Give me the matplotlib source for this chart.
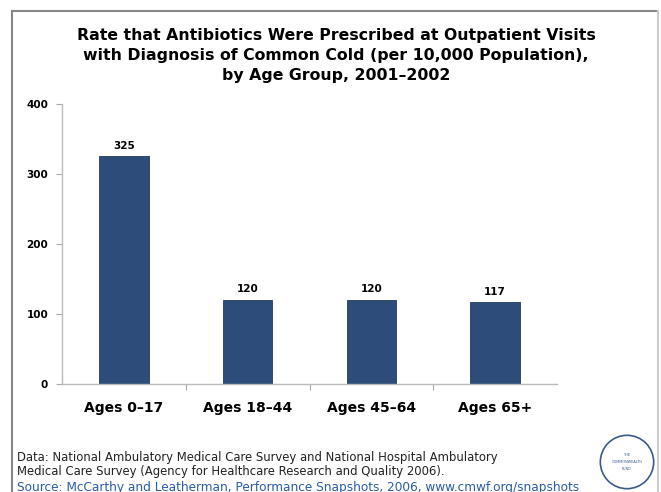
import matplotlib
matplotlib.use("Agg")
import matplotlib.pyplot as plt
from matplotlib.lines import Line2D
from matplotlib.patches import Circle

categories = ["Ages 0\u201317", "Ages 18\u201344", "Ages 45\u201364", "Ages 65+"]
values = [325, 120, 120, 117]
yticks = [0, 100, 200, 300, 400]

title = ("Rate that Antibiotics Were Prescribed at Outpatient Visits\n"
         "with Diagnosis of Common Cold (per 10,000 Population),\n"
         "by Age Group, 2001\u20132002")
note1 = "Data: National Ambulatory Medical Care Survey and National Hospital Ambulatory"
note2 = "Medical Care Survey (Agency for Healthcare Research and Quality 2006)."
source = "Source: McCarthy and Leatherman, Performance Snapshots, 2006, www.cmwf.org/snapshots"

plt.rcParams['font.family'] = ['DejaVu Sans']

fig = plt.figure(figsize=(6.61, 4.92), dpi=100)
ax = fig.add_axes([62/661, 1-384/492, 495/661, 280/492])

bar_color = "#2D4C7A"
x = list(range(len(categories)))
bars = ax.bar(x, values, width=0.4, color=bar_color, edgecolor="#22395e", linewidth=0.6)
ax.set_xlim(-0.5, len(categories)-0.5)
ax.set_ylim(0, 400)
ax.set_yticks(yticks)
ax.set_yticklabels([str(v) for v in yticks], fontsize=7.5, fontweight='bold')
ax.set_xticks([i+0.5 for i in range(len(categories)-1)], minor=False)
ax.set_xticklabels([])
ax.set_xticks(x, minor=True)
ax.set_xticklabels(categories, minor=True, fontsize=10, fontweight='bold')
ax.tick_params(axis='x', which='major', length=4, color='#aaaaaa', direction='out')
ax.tick_params(axis='x', which='minor', length=0, pad=12)
ax.tick_params(axis='y', length=4, color='#aaaaaa', direction='out', pad=6)
for s in ['top', 'right']:
    ax.spines[s].set_visible(False)
for s in ['left', 'bottom']:
    ax.spines[s].set_color('#bbbbbb')
    ax.spines[s].set_linewidth(1.0)

for xi, v in zip(x, values):
    ax.annotate(str(v), (xi, v), xytext=(0, 4), textcoords='offset points',
                ha='center', va='bottom', fontsize=7.5, fontweight='bold')

fig.text(336/661, 1-28/492, title, ha='center', va='top', fontsize=11.3,
         fontweight='bold', linespacing=1.42)

fig.text(17/661, 1-457/492, note1, ha='left', va='center', fontsize=8.4, color='#222222')
fig.text(17/661, 1-472/492, note2, ha='left', va='center', fontsize=8.4, color='#222222')
fig.text(17/661, 1-487/492, source, ha='left', va='center', fontsize=8.7, color='#2A5CA8')

# frame
fc = '#888888'
fig.add_artist(Line2D([12/661, 12/661], [0, 1-11/492], transform=fig.transFigure, color=fc, lw=1.5))
fig.add_artist(Line2D([12/661, 658/661], [1-11/492, 1-11/492], transform=fig.transFigure, color=fc, lw=1.5))
fig.add_artist(Line2D([658/661, 658/661], [0, 1-11/492], transform=fig.transFigure, color='#cccccc', lw=1.5))

# logo
logo_ax = fig.add_axes([598/661, 1-491/492, 58/661, 58/492])
logo_ax.set_xlim(-1, 1); logo_ax.set_ylim(-1, 1); logo_ax.set_aspect('equal'); logo_ax.axis('off')
logo_ax.add_patch(Circle((0, 0), 0.92, fill=False, edgecolor='#3b5a8c', lw=1.2))
logo_ax.text(0, 0.25, "THE", ha='center', va='center', fontsize=2.5, color='#3b5a8c')
logo_ax.text(0, 0.0, "COMMONWEALTH", ha='center', va='center', fontsize=2.5, color='#3b5a8c')
logo_ax.text(0, -0.25, "FUND", ha='center', va='center', fontsize=2.5, color='#3b5a8c')

fig.savefig("out.png", dpi=100)
